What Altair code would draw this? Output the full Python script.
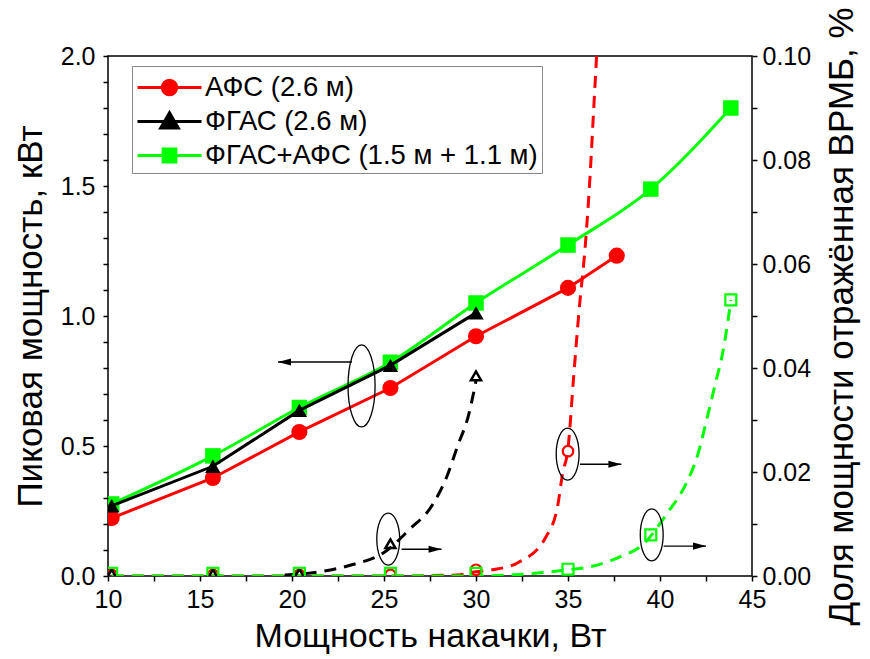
import altair as alt
import pandas as pd

FONT = "Liberation Sans"

# ---------------- data ----------------
series_names = ["АФС (2.6 м)", "ФГАС (2.6 м)", "ФГАС+АФС (1.5 м + 1.1 м)"]
series_colors = ["#ff0000", "#000000", "#00ff00"]

# peak power, kW (left axis)
afs_pump = [10.2, 15.7, 20.4, 25.35, 30.0, 35.0, 37.65]
afs_peak = [0.223, 0.377, 0.554, 0.723, 0.922, 1.108, 1.232]
fgas_pump = [10.2, 15.7, 20.4, 25.35, 30.0]
fgas_peak = [0.27, 0.422, 0.637, 0.81, 1.012]
comb_pump = [10.2, 15.7, 20.4, 25.35, 30.0, 35.0, 39.5, 43.85]
comb_peak = [0.277, 0.462, 0.648, 0.822, 1.05, 1.273, 1.488, 1.80]

# reflected SBS power fraction, % (right axis)
afs_sbs_pump = [10.2, 15.7, 20.4, 25.35, 30.0, 35.0]
afs_sbs = [0.0002, 0.0002, 0.0002, 0.0002, 0.0012, 0.0240]
fgas_sbs_pump = [10.2, 15.7, 20.4, 25.35, 30.0]
fgas_sbs = [0.0004, 0.0004, 0.0005, 0.0062, 0.0385]
comb_sbs_pump = [10.2, 15.7, 20.4, 25.35, 30.0, 35.0, 39.5, 43.85]
comb_sbs = [0.0005, 0.0005, 0.0005, 0.0005, 0.0005, 0.0013, 0.0079, 0.0531]

# dashed trend curves
afs_fit_x = [10.2, 15.7, 20.4, 25.35, 29.0, 30.0, 30.9, 32.3, 33.8, 34.45, 34.7,
             35.0, 35.3, 35.6, 35.95, 36.2, 36.4, 36.6]
afs_fit_y = [0.0, 0.0, 0.0, 0.0, 0.0002, 0.0008, 0.0012, 0.0026, 0.0075, 0.0137, 0.0196,
             0.0245, 0.038, 0.051, 0.064, 0.077, 0.090, 0.103]
fgas_fit_x = [19.6, 21.5, 23.3, 25.0, 26.4, 27.6, 28.4, 29.0, 29.6, 30.0]
fgas_fit_y = [0.0002, 0.0008, 0.0022, 0.0045, 0.009, 0.0135, 0.019, 0.025, 0.031, 0.0375]
comb_fit_x = [10.2, 15.7, 20.4, 25.35, 30.0, 32.4, 35.0, 36.1, 37.7, 39.15, 40.4, 41.35,
              42.05, 42.6, 43.05, 43.4, 43.7, 43.85]
comb_fit_y = [0.0, 0.0, 0.0, 0.0, 0.0, 0.0003, 0.0012, 0.0017, 0.0035, 0.0063, 0.0121, 0.0173,
              0.0233, 0.031, 0.0376, 0.0428, 0.0492, 0.0531]

# annotation marks (data units: pump W, peak kW)
big_ellipse_x = [23.78]
big_ellipse_y = [0.731]
small_ellipse_x = [25.23, 34.98, 39.55]
small_ellipse_y = [0.142, 0.469, 0.158]
arrow_start_x = [23.26, 25.96, 35.65, 40.2]
arrow_end_x = [19.24, 28.13, 37.9, 42.5]
arrow_y = [0.823, 0.103, 0.43, 0.115]
arrow_dir = ["left", "right", "right", "right"]

# axis tick values (major ones get labels)
x_ticks = [10, 12.5, 15, 17.5, 20, 22.5, 25, 27.5, 30, 32.5, 35, 37.5, 40, 42.5, 45]
kw_ticks = [0.0, 0.1, 0.2, 0.3, 0.4, 0.5, 0.6, 0.7, 0.8, 0.9, 1.0, 1.1, 1.2, 1.3, 1.4, 1.5,
            1.6, 1.7, 1.8, 1.9, 2.0]
pct_ticks = [0.0, 0.01, 0.02, 0.03, 0.04, 0.05, 0.06, 0.07, 0.08, 0.09, 0.10]

# ---------------- tables ----------------
def table(xs, ys):
    return pd.DataFrame({"pump": xs, "val": ys, "order": list(range(len(xs)))})

W, H = 644, 520
X_DOM = [10, 45]
KW_DOM = [0, 2]
PCT_DOM = [0, 0.1]

# ---------------- axes ----------------
AX = dict(grid=False, labelFont=FONT, titleFont=FONT, labelColor="black", titleColor="black",
          titleFontWeight="normal", domain=False, ticks=True, tickSize=5, tickWidth=1.5,
          tickColor="black", zindex=1, labelFlush=False)

x_main_axis = alt.Axis(orient="bottom", values=x_ticks, format="d",
                       labelExpr="datum.value % 5 == 0 ? datum.label : ''",
                       labelFontSize=25, labelPadding=6,
                       title="Мощность накачки, Вт", titleFontSize=34, titlePadding=7, **AX)
kw_main_axis = alt.Axis(orient="left", values=kw_ticks, format=".1f",
                        labelExpr="abs(datum.value * 2 - round(datum.value * 2)) < 0.001 ? datum.label : ''",
                        labelFontSize=25, labelPadding=8,
                        title="Пиковая мощность, кВт", titleFontSize=35, titlePadding=12, **AX)
pct_main_axis = alt.Axis(orient="right", values=pct_ticks, format=".2f",
                         labelExpr="abs(datum.value * 50 - round(datum.value * 50)) < 0.001 ? datum.label : ''",
                         labelFontSize=25, labelPadding=5,
                         title="Доля мощности отражённая ВРМБ, %", titleFontSize=35,
                         titleAngle=270, titleBaseline="top", titlePadding=14, **AX)


def sx():
    return alt.Scale(domain=X_DOM, nice=False, zero=False)


def skw():
    return alt.Scale(domain=KW_DOM, nice=False, zero=False)


def spct():
    return alt.Scale(domain=PCT_DOM, nice=False, zero=False)


def X(field="pump"):
    return alt.X(f"{field}:Q", scale=sx(), axis=x_main_axis)


def YKW(axis=None):
    return alt.Y("val:Q", scale=skw(), axis=axis)


def YPCT(axis=None):
    return alt.Y("val:Q", scale=spct(), axis=axis)


RED, BLACK, GREEN = series_colors

# solid curves + filled markers (left axis)
green_line = alt.Chart(table(comb_pump, comb_peak)).mark_line(
    strokeWidth=3, interpolate="monotone", color=GREEN, clip=True).encode(
    x=X(), y=YKW(kw_main_axis), order="order:Q")
green_pts = alt.Chart(table(comb_pump, comb_peak)).mark_point(
    shape="square", filled=True, size=240, color=GREEN, opacity=1, clip=True).encode(
    x=X(), y=YKW())
red_line = alt.Chart(table(afs_pump, afs_peak)).mark_line(
    strokeWidth=3, color=RED, clip=True).encode(
    x=X(), y=YKW(), order="order:Q")
red_pts = alt.Chart(table(afs_pump, afs_peak)).mark_point(
    shape="circle", filled=True, size=260, color=RED, opacity=1, clip=True).encode(
    x=X(), y=YKW())
black_line = alt.Chart(table(fgas_pump, fgas_peak)).mark_line(
    strokeWidth=3, color=BLACK, clip=True).encode(
    x=X(), y=YKW(), order="order:Q")
black_pts = alt.Chart(table(fgas_pump, fgas_peak)).mark_point(
    shape="triangle-up", filled=True, size=240, color=BLACK, opacity=1, clip=True).encode(
    x=X(), y=YKW())

# dashed trend curves + hollow markers (right axis)
DASH = dict(strokeWidth=3, strokeDash=[12, 8], interpolate="monotone", clip=True)
red_fit = alt.Chart(table(afs_fit_x, afs_fit_y)).mark_line(color=RED, **DASH).encode(
    x=X(), y=YPCT(pct_main_axis), order="order:Q")
black_fit = alt.Chart(table(fgas_fit_x, fgas_fit_y)).mark_line(color=BLACK, **DASH).encode(
    x=X(), y=YPCT(), order="order:Q")
green_fit = alt.Chart(table(comb_fit_x, comb_fit_y)).mark_line(color=GREEN, **DASH).encode(
    x=X(), y=YPCT(), order="order:Q")

red_hollow = alt.Chart(table(afs_sbs_pump, afs_sbs)).mark_point(
    shape="circle", filled=False, size=110, strokeWidth=2.2, color=RED, opacity=1, clip=True).encode(
    x=X(), y=YPCT())
black_hollow = alt.Chart(table(fgas_sbs_pump, fgas_sbs)).mark_point(
    shape="triangle-up", filled=False, size=100, strokeWidth=2.5, color=BLACK, opacity=1, clip=True).encode(
    x=X(), y=YPCT())
green_hollow = alt.Chart(table(comb_sbs_pump, comb_sbs)).mark_point(
    shape="square", filled=False, size=120, strokeWidth=2.2, color=GREEN, opacity=1, clip=True).encode(
    x=X(), y=YPCT())

# annotations
ELL_BIG = "M0,-1A0.33,1 0 1,1 0,1A0.33,1 0 1,1 0,-1Z"
ELL_SMALL = "M0,-1A0.44,1 0 1,1 0,1A0.44,1 0 1,1 0,-1Z"
HEAD_R = "M0,0L-2,-0.55L-2,0.55Z"
HEAD_L = "M0,0L2,-0.55L2,0.55Z"

big_ell_df = pd.DataFrame({"pump": big_ellipse_x, "val": big_ellipse_y})
small_ell_df = pd.DataFrame({"pump": small_ellipse_x, "val": small_ellipse_y})
arrow_df = pd.DataFrame({"pump": arrow_start_x, "pump2": arrow_end_x, "val": arrow_y, "dir": arrow_dir})

big_ell = alt.Chart(big_ell_df).mark_point(
    shape=ELL_BIG, size=6724, filled=False, color="black", strokeWidth=1.3, opacity=1).encode(
    x=X(), y=YKW())
small_ell = alt.Chart(small_ell_df).mark_point(
    shape=ELL_SMALL, size=2704, filled=False, color="black", strokeWidth=1.3, opacity=1).encode(
    x=X(), y=YKW())
arrows = alt.Chart(arrow_df).mark_rule(color="black", strokeWidth=1.4).encode(
    x=X(), x2="pump2:Q", y=YKW())
heads_r = alt.Chart(arrow_df).transform_filter(alt.datum.dir == "right").mark_point(
    shape=HEAD_R, size=169, filled=True, color="black", opacity=1).encode(
    x=X("pump2"), y=YKW())
heads_l = alt.Chart(arrow_df).transform_filter(alt.datum.dir == "left").mark_point(
    shape=HEAD_L, size=169, filled=True, color="black", opacity=1).encode(
    x=X("pump2"), y=YKW())

# legend (line + marker symbols)
LEG_CIRCLE = "M-1,0L3,0M0.55,0A0.45,0.45 0 1,1 1.45,0A0.45,0.45 0 1,1 0.55,0Z"
LEG_TRI = "M-1,0L3,0M0.45,0.4L1,-0.55L1.55,0.4Z"
LEG_SQ = "M-1,0L3,0M0.6,-0.4H1.4V0.4H0.6Z"
leg = alt.Legend(title=None, orient="none", legendX=24, legendY=10, labelFont=FONT,
                 labelFontSize=27.5, labelColor="black", labelLimit=700, symbolSize=1024,
                 symbolStrokeWidth=3, symbolOpacity=1, labelOffset=34, padding=4,
                 rowPadding=3, strokeColor="#888888", fillColor="white", zindex=2)
legend_df = pd.DataFrame({"series": series_names})
legend_layer = alt.Chart(legend_df).mark_point(filled=True, opacity=0).encode(
    fill=alt.Fill("series:N", scale=alt.Scale(domain=series_names, range=series_colors), legend=leg),
    stroke=alt.Stroke("series:N", scale=alt.Scale(domain=series_names, range=series_colors), legend=leg),
    shape=alt.Shape("series:N", scale=alt.Scale(domain=series_names, range=[LEG_CIRCLE, LEG_TRI, LEG_SQ]), legend=leg),
)

chart = alt.layer(
    red_fit, black_fit, green_fit, red_hollow, black_hollow, green_hollow,
    green_line, green_pts, red_line, red_pts, black_line, black_pts,
    big_ell, small_ell, arrows, heads_r, heads_l,
    legend_layer,
).resolve_scale(
    y="independent"
).properties(
    width=W, height=H,
    autosize=alt.AutoSizeParams(type="none"),
    padding={"left": 108, "top": 56, "right": 118, "bottom": 83},
    background="white",
).configure_view(
    stroke="black", strokeWidth=1.5
)

chart.save("out.html", embed_options={"renderer": "svg", "actions": False})
